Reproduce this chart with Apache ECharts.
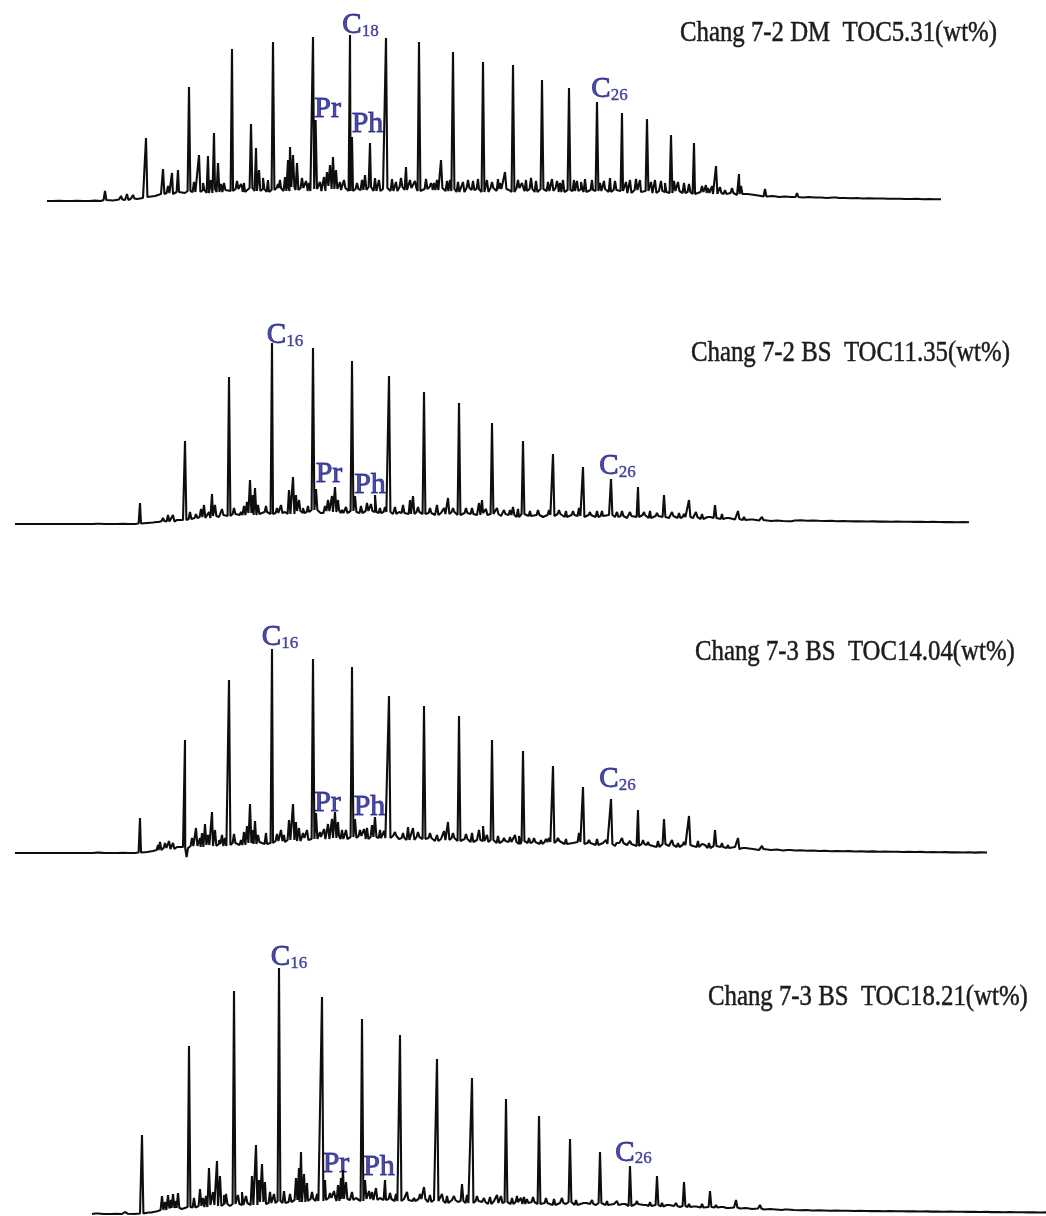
<!DOCTYPE html>
<html>
<head>
<meta charset="utf-8">
<title>Chang 7 saturated hydrocarbon chromatograms</title>
<script src="https://cdn.jsdelivr.net/npm/echarts@6/dist/echarts.min.js"></script>
<style>
  html, body { margin: 0; padding: 0; background: #ffffff; }
  #chart { width: 1046px; height: 1216px; }
</style>
</head>
<body>
<div id="chart"></div>
<script>
// Saturated-hydrocarbon gas chromatograms of four Chang 7 shale samples.
// Time axis: retention time (min); vertical axis: relative abundance.

const sampleTitles = [
  'Chang 7-2 DM  TOC5.31(wt%)',
  'Chang 7-2 BS  TOC11.35(wt%)',
  'Chang 7-3 BS  TOC14.04(wt%)',
  'Chang 7-3 BS  TOC18.21(wt%)'
];

// ---------- Chang 7-2 DM, TOC 5.31 ----------
// detector baseline, sampled every 0.3 min from 2.35 min
const dmBaseStart = 2.35, dmBaseStep = 0.3;
const dmBase = [
  9, 9, 9.2, 9, 9, 9.3, 9, 9, 9.4, 9,
  10, 9.5, 10.5, 10, 11.5, 11, 12,
  13, 14, 16, 17, 16, 18, 17, 19, 18,
  20, 17, 21, 18, 20, 19, 21, 18, 22, 19, 21, 18, 20, 22, 19, 23, 20,
  22, 19, 21, 19, 24, 21, 20, 22, 19, 21, 20, 23, 19, 21, 22, 19, 23,
  20, 22, 19, 21, 23, 20, 22, 19, 21, 18, 22, 20, 21, 18, 22, 19, 21,
  20, 18, 22, 19, 21, 18, 21, 19, 22, 18, 20, 19, 21, 18, 20, 19, 21,
  18, 20, 19, 17, 20, 18, 19, 17, 19, 18, 17, 19, 17, 18, 16, 18, 17,
  16, 17, 16, 17, 15, 16, 14, 15, 14, 13.5, 14, 13, 13.5, 13, 13, 12.5, 13,
  12.5, 12.5, 12, 12.5, 12, 12, 11.8, 12, 11.5, 11.8, 11.5, 11.5, 11.3, 11.2, 11.3, 11, 11, 11.2, 10.8, 11, 10.8, 10.8
];
// n-alkane peaks [retention time, apex abundance]
const dmAlkanes = [
  [5.25, 19], [7.3, 72], [9.45, 123], [11.6, 161], [13.65, 168], [15.65, 173], [17.5, 175],
  [19.3, 172], [20.95, 168], [22.65, 158], [24.15, 148], [25.65, 145], [27.1, 130], [28.45, 122],
  [29.85, 108], [31.1, 97], [32.35, 91], [33.55, 75], [34.7, 67], [35.8, 44], [36.95, 36],
  [38.25, 21], [39.85, 17], [41.75, 14], [44.1, 13]
];
// isoprenoids, unresolved minor compounds and baseline spikes
const dmMinor = [
  [6.05, 14], [6.35, 16], [6.65, 15], [8.15, 41], [8.4, 24], [8.6, 37], [8.9, 40], [9.95, 55],
  [10.15, 27], [10.4, 54], [10.7, 77], [10.9, 47], [11.2, 27], [12.05, 26], [12.55, 86], [12.8, 62],
  [12.95, 40], [13.15, 32], [14.0, 30], [14.4, 50], [14.5, 63], [14.65, 55], [14.85, 47], [15.1, 32],
  [15.78, 90], [16.0, 28], [16.35, 38], [16.5, 45], [16.65, 53], [16.8, 40], [17.0, 28], [17.6, 73],
  [18.1, 30], [18.25, 35], [18.5, 67], [18.75, 32], [19.8, 28], [20.05, 32], [20.3, 43], [20.5, 30],
  [21.55, 27], [21.85, 30], [22.05, 50], [22.35, 29], [23.15, 28], [23.4, 30], [23.65, 29], [24.6, 28],
  [24.9, 31], [25.25, 38], [26.3, 30], [26.55, 32], [27.4, 28], [27.85, 29], [28.15, 30], [28.85, 29],
  [29.25, 31], [30.2, 29], [30.5, 32], [31.5, 30], [31.8, 31], [32.75, 30], [33.05, 29], [33.9, 28],
  [34.2, 27], [35.1, 24], [35.4, 22], [36.25, 20], [37.3, 18],
  [9.7, 28], [10.55, 30], [11.05, 26], [11.85, 29], [12.2, 27], [13.4, 30], [13.9, 26], [14.25, 33],
  [15.3, 29], [15.45, 27], [16.2, 33], [17.2, 30], [17.85, 27], [18.95, 30], [19.6, 31], [20.75, 29],
  [21.3, 31], [21.7, 27], [22.5, 30], [22.9, 28], [23.9, 31], [24.35, 30], [25.0, 27], [25.9, 30],
  [26.1, 27], [26.8, 29], [27.6, 31], [28.0, 27], [28.7, 30], [29.05, 28], [29.6, 30], [30.0, 27],
  [30.75, 29], [31.3, 28], [32.0, 30], [32.55, 28], [33.25, 27], [33.7, 29], [34.45, 26], [35.3, 25],
  [35.6, 24], [36.0, 23], [36.6, 22], [37.05, 24]
];
const dmTags = [[17.5, 175, 'C18'], [15.78, 90, 'Pr'], [17.6, 73, 'Ph'], [29.85, 108, 'C26']];

// ---------- Chang 7-2 BS, TOC 11.35 ----------
const bs1BaseStart = 0.75, bs1BaseStep = 0.3;
const bs1Base = [
  6, 6, 6, 6, 6, 6, 6, 6, 6, 6, 6, 6, 6, 6, 6.3, 6, 6, 6, 6.2, 6, 6,
  6.5, 7, 7.5, 8, 9, 8.5, 10,
  10, 11, 12, 13, 12, 14, 13, 15, 14, 16, 15, 17, 15, 16, 18, 16, 17,
  18, 16, 19, 17, 18, 20, 17, 19, 18, 20, 17, 19, 18, 17, 19, 18, 17,
  18, 16, 18, 17, 16, 18, 16, 17, 15, 17, 16, 18, 15, 17, 16, 15, 17,
  15, 16, 14, 16, 15, 13, 16, 14, 15, 13, 15, 14, 16, 13, 15, 14, 13,
  15, 13, 14, 15, 13, 14, 12, 14, 13, 15, 12, 14, 13, 12, 14, 12, 13,
  12, 13, 11, 13, 12, 11, 12, 10.5, 11, 10, 10.5, 9.5, 10, 9, 9.5, 9, 8.8,
  9.5, 9.7, 9.3, 9.5, 9.2, 9, 9.2, 8.8, 9, 8.8, 8.6, 8.8, 8.5, 8.6, 8.4, 8.5, 8.3, 8.4, 8.2, 8.3,
  8.1, 8.2, 8, 8.1, 8, 7.9, 8, 7.8, 7.9, 7.8
];
const bs1Alkanes = [
  [7.0, 27], [9.25, 89], [11.45, 153], [13.6, 187], [15.65, 182], [17.6, 169], [19.45, 154],
  [21.2, 138], [22.95, 127], [24.6, 107], [26.15, 89], [27.65, 76], [29.15, 63], [30.55, 51],
  [31.9, 43], [33.2, 35], [34.45, 30], [35.75, 25], [36.9, 19], [38.1, 13], [39.5, 10]
];
const bs1Minor = [
  [4.9, 8], [7.9, 8], [8.15, 12], [8.4, 15], [8.65, 15], [9.8, 16], [10.2, 25], [10.45, 18],
  [10.6, 36], [10.75, 25], [10.95, 15], [12.05, 18], [12.35, 28], [12.5, 50], [12.65, 35], [12.75, 42],
  [12.9, 25], [14.2, 18], [14.45, 40], [14.65, 53], [14.8, 35], [14.95, 30], [15.15, 22], [15.8, 41],
  [16.1, 18], [16.4, 30], [16.6, 34], [16.75, 43], [16.9, 30], [17.1, 20], [17.75, 34], [18.35, 27],
  [18.75, 35], [19.0, 22], [20.15, 25], [20.5, 30], [20.65, 34], [21.85, 25], [22.2, 22], [22.4, 32],
  [23.6, 22], [23.95, 27], [24.1, 30], [25.2, 20], [25.65, 23], [27.45, 20], [28.65, 19], [28.95, 22],
  [29.85, 19], [31.1, 19], [32.5, 19], [33.6, 18], [34.8, 18], [36.1, 16], [37.6, 12],
  [9.5, 18], [10.05, 21], [11.1, 21], [11.7, 22], [12.2, 24], [13.3, 24], [13.85, 22], [14.05, 25],
  [15.4, 24], [16.25, 24], [17.3, 23], [18.05, 24], [18.55, 26], [19.25, 23], [19.75, 23], [20.9, 23],
  [21.5, 22], [22.65, 22], [23.3, 22], [24.3, 21], [24.85, 22], [25.5, 20], [25.9, 21], [26.5, 19],
  [26.9, 20], [27.95, 20], [28.3, 19], [29.5, 18], [30.1, 19], [30.85, 18], [31.5, 18], [32.2, 18],
  [32.85, 17], [33.95, 17], [34.2, 16], [35.1, 16], [35.45, 15], [36.4, 14], [37.2, 13]
];
const bs1Tags = [[13.6, 187, 'C16'], [15.8, 41, 'Pr'], [17.75, 34, 'Ph'], [30.55, 51, 'C26']];

// ---------- Chang 7-3 BS, TOC 14.04 ----------
const bs2BaseStart = 0.75, bs2BaseStep = 0.3;
const bs2Base = [
  7, 7, 7, 7, 7, 7, 7, 7, 7, 7, 7, 7, 7, 7, 7.4, 7, 7, 7, 7.3, 7, 7,
  7.5, 8, 9, 10, 12, 11, 13,
  13, 12, 14, 13, 15, 14, 16, 14, 15, 17, 15, 17, 16, 18, 16, 17, 19,
  18, 20, 19, 22, 20, 21, 23, 21, 22, 24, 21, 23, 22, 24, 21, 23, 22,
  22, 24, 21, 22, 20, 23, 21, 22, 19, 21, 20, 22, 19, 21, 18, 20, 19,
  18, 20, 17, 19, 18, 16, 19, 17, 18, 16, 18, 17, 19, 16, 17, 18, 16,
  17, 15, 17, 16, 14, 17, 15, 16, 14, 16, 15, 13, 16, 14, 15, 13, 15,
  14, 13, 15, 12, 14, 13, 12, 13, 11, 12, 11, 10, 11, 10, 10.5, 9.5, 10,
  9.5, 9.8, 9.2, 9.5, 9, 9.3, 8.8, 9, 8.7, 8.9, 8.5, 8.7, 8.4, 8.6, 8.3, 8.5, 8.2, 8.3, 8, 8.2,
  8, 8.1, 7.8, 8, 7.7, 7.9, 7.6, 7.8, 7.5, 7.7, 7.4, 7.6, 7.5
];
const bs2Alkanes = [
  [7.0, 42], [9.25, 120], [11.45, 180], [13.6, 211], [15.65, 201], [17.6, 193], [19.45, 164],
  [21.2, 154], [22.95, 144], [24.6, 120], [26.15, 109], [27.65, 94], [29.15, 73], [30.55, 61],
  [31.9, 50], [33.2, 41], [34.45, 44], [35.75, 30], [36.9, 22], [38.1, 14], [39.45, 10]
];
const bs2Minor = [
  [4.9, 9], [7.9, 15], [8.0, 18], [8.25, 17], [8.45, 19], [8.65, 17], [9.33, 3], [9.8, 32],
  [10.0, 22], [10.25, 36], [10.4, 25], [10.6, 48], [10.75, 30], [10.95, 20], [11.25, 22], [12.05, 20],
  [12.35, 34], [12.5, 56], [12.65, 30], [12.75, 39], [12.9, 25], [14.2, 25], [14.45, 40], [14.65, 56],
  [14.8, 38], [14.95, 32], [15.15, 27], [15.8, 47], [16.0, 28], [16.4, 36], [16.6, 41], [16.75, 48],
  [16.9, 38], [17.1, 30], [17.75, 41], [18.0, 30], [18.35, 32], [18.6, 35], [18.75, 43], [19.0, 30],
  [20.15, 27], [20.4, 33], [20.65, 32], [21.85, 25], [22.2, 29], [22.4, 38], [23.6, 27], [23.95, 30],
  [24.15, 34], [25.2, 22], [25.75, 25], [26.7, 22], [27.05, 20], [27.45, 22], [28.95, 27], [31.1, 22],
  [32.15, 20], [33.6, 20], [34.9, 19], [36.1, 17],
  [9.6, 22], [10.1, 27], [11.1, 25], [11.7, 26], [12.2, 28], [13.3, 27], [13.85, 26], [14.05, 30],
  [15.35, 30], [16.2, 31], [17.3, 30], [18.2, 31], [19.2, 29], [19.75, 28], [20.9, 28], [21.5, 27],
  [22.65, 27], [23.3, 26], [24.35, 25], [24.9, 24], [25.5, 23], [25.95, 24], [26.45, 22], [27.3, 21],
  [27.9, 22], [28.3, 21], [29.45, 20], [29.85, 21], [30.3, 20], [30.9, 19], [31.5, 19], [32.4, 18],
  [32.9, 19], [33.9, 17], [34.2, 18], [35.1, 16], [35.45, 17], [36.4, 15], [37.2, 13]
];
const bs2Tags = [[13.6, 211, 'C16'], [15.8, 47, 'Pr'], [17.75, 41, 'Ph'], [30.55, 61, 'C26']];

// ---------- Chang 7-3 BS, TOC 18.21 ----------
const bs3BaseStart = 4.6, bs3BaseStep = 0.3;
const bs3Base = [
  2, 2.5, 2, 2, 2.3, 2, 2.2, 2, 2.5, 3, 3.5,
  5, 6, 7.5, 8, 7, 9, 8.5, 10, 9,
  11, 10, 12, 10, 12, 11, 13, 11, 14, 12, 13, 15, 13, 14, 16, 14, 15,
  17, 15, 16, 18, 15, 17, 16, 18, 15, 17, 16, 18, 16, 17, 15, 17, 16,
  15, 17, 14, 16, 15, 13, 16, 14, 15, 13, 15, 14, 12, 15, 13, 14, 12,
  14, 12, 13, 14, 12, 13, 11, 13, 12, 14, 11, 13, 12, 11, 13, 11, 12,
  11, 12, 10, 12, 11, 10, 11, 9.5, 11, 10, 9, 10, 9, 9.5, 8.5, 9, 8.5,
  9, 8, 8.5, 7.5, 8, 7, 7.5, 6.5, 7, 6.5, 6, 6.5, 6, 5.8, 6, 5.5, 5.7,
  5.5, 5.3, 5.5, 5.2, 5.3, 5, 5.2, 5, 4.9, 5, 4.8, 4.9, 4.7, 4.8, 4.6, 4.7, 4.5, 4.6, 4.4, 4.5,
  4.3, 4.4, 4.2, 4.3, 4.1, 4.2, 4, 4.1, 3.9, 4, 3.8, 3.9, 3.7, 3.8, 3.6, 3.7, 3.5, 3.6
];
const bs3Alkanes = [
  [7.1, 81], [9.45, 170], [11.7, 225], [13.95, 248], [16.1, 219], [18.1, 197], [20.0, 181],
  [21.85, 157], [23.6, 138], [25.3, 117], [26.95, 100], [28.5, 77], [30.0, 64], [31.5, 50],
  [32.85, 40], [34.2, 34], [35.5, 25], [36.8, 16], [38.0, 11], [39.3, 7], [40.7, 5]
];
const bs3Minor = [
  [4.85, 3], [6.25, 4], [7.5, 3], [8.1, 20], [8.25, 14], [8.4, 21], [8.55, 16], [8.65, 22],
  [8.8, 15], [8.9, 23], [10.0, 27], [10.15, 18], [10.45, 48], [10.65, 24], [10.85, 55], [11.0, 40],
  [11.2, 21], [12.3, 20], [12.6, 40], [12.8, 71], [12.95, 36], [13.1, 52], [13.25, 34], [14.8, 38],
  [14.95, 48], [15.05, 64], [15.2, 42], [15.35, 33], [16.25, 36], [16.5, 23], [16.9, 31], [17.05, 38],
  [17.15, 46], [17.3, 34], [18.25, 36], [18.6, 24], [18.8, 28], [19.25, 36], [20.7, 18], [21.2, 29],
  [22.35, 20], [23.1, 32], [24.2, 18], [24.85, 21], [25.85, 20], [26.05, 18], [26.35, 17], [26.65, 19],
  [29.25, 15], [30.85, 15], [32.25, 13], [33.4, 13], [34.75, 11], [36.1, 10],
  [9.7, 18], [10.3, 20], [11.3, 22], [11.9, 21], [12.1, 24], [13.5, 24], [13.7, 22], [14.2, 25],
  [14.5, 22], [15.6, 24], [15.85, 22], [16.7, 25], [17.6, 24], [18.45, 25], [19.5, 23], [19.8, 22],
  [20.35, 24], [21.0, 22], [21.5, 21], [22.1, 22], [22.7, 20], [23.35, 21], [23.85, 20], [24.5, 19],
  [25.05, 20], [25.6, 18], [26.2, 19], [27.3, 18], [27.7, 17], [28.1, 18], [28.8, 16], [29.6, 16],
  [30.35, 15], [31.2, 14], [31.85, 15], [32.5, 14], [33.1, 13], [33.8, 13], [34.45, 12], [35.1, 12],
  [35.8, 11], [36.4, 10]
];
const bs3Tags = [[13.95, 248, 'C16'], [16.25, 36, 'Pr'], [18.25, 36, 'Ph'], [31.5, 50, 'C26']];

// ---------- layout & styling ----------
const panels = [
  { base: dmBase, start: dmBaseStart, step: dmBaseStep, alkanes: dmAlkanes, minor: dmMinor, tags: dmTags },
  { base: bs1Base, start: bs1BaseStart, step: bs1BaseStep, alkanes: bs1Alkanes, minor: bs1Minor, tags: bs1Tags },
  { base: bs2Base, start: bs2BaseStart, step: bs2BaseStep, alkanes: bs2Alkanes, minor: bs2Minor, tags: bs2Tags },
  { base: bs3Base, start: bs3BaseStart, step: bs3BaseStep, alkanes: bs3Alkanes, minor: bs3Minor, tags: bs3Tags }
];
const panelBoxes = [
  { top: 0, height: 210 },
  { top: 300, height: 230 },
  { top: 600, height: 260 },
  { top: 936, height: 280 }
];
const titlePos = [[680, 33], [691, 353], [695, 652], [708, 997]];
const tagOffsets = [
  { C18: [10.5, 5], Pr: [12, 4.5], Ph: [15.5, 2.5], C26: [12.5, 1.6] },
  { C16: [13, 6.6], Pr: [13, 0.5], Ph: [15, 4.5], C26: [6.5, 2.1] },
  { C16: [8, 2.6], Pr: [11.5, 5.5], Ph: [14.5, 3.5], C26: [6.5, -4.9] },
  { C16: [10, 3.6], Pr: [11, -0.5], Ph: [14, 2.5], C26: [3.5, 1.5] }
];
const TIME_MAX = 52.3;
const PEAK_HALF_WIDTH = 0.07;
const TAG_COLOR = '#1f2088';
const SERIF = '"Liberation Serif", "Times New Roman", serif';

// Assemble the trace: baseline samples plus narrow peaks rising from the local baseline
function buildTrace(p) {
  const pts = p.base.map((v, i) => [+(p.start + i * p.step).toFixed(3), v]);
  const footAt = t => {
    let i = Math.round((t - p.start) / p.step);
    i = Math.max(0, Math.min(p.base.length - 1, i));
    return p.base[i];
  };
  p.alkanes.concat(p.minor).forEach(([t, v]) => {
    const f = footAt(t);
    pts.push([t - PEAK_HALF_WIDTH, f], [t, v], [t + PEAK_HALF_WIDTH, f]);
  });
  pts.sort((a, b) => a[0] - b[0]);
  return pts;
}

function tagText(name) {
  const m = /^C(\d+)$/.exec(name);
  return m ? '{c|C}{s|' + m[1] + '}' : '{p|' + name + '}';
}

const tagFont = { fontFamily: SERIF, color: TAG_COLOR, textBorderColor: TAG_COLOR };

const grid = [], xAxis = [], yAxis = [], series = [];
panels.forEach((p, i) => {
  grid.push({ left: 0, right: 0, top: panelBoxes[i].top, height: panelBoxes[i].height, containLabel: false });
  xAxis.push({ gridIndex: i, type: 'value', min: 0, max: TIME_MAX, show: false });
  yAxis.push({ gridIndex: i, type: 'value', min: 0, max: panelBoxes[i].height, show: false });
  series.push({
    type: 'line', xAxisIndex: i, yAxisIndex: i,
    data: buildTrace(p), symbol: 'none', smooth: false, clip: false,
    lineStyle: { color: '#0e0e0e', width: 2.1 },
    emphasis: { disabled: true }, silent: true
  });
  series.push({
    type: 'scatter', xAxisIndex: i, yAxisIndex: i, silent: true,
    symbolSize: 0, itemStyle: { color: 'rgba(0,0,0,0)' },
    data: p.tags.map(([t, v, name]) => ({
      value: [t, v], name: name,
      label: { offset: tagOffsets[i][name] }
    })),
    label: {
      show: true, position: 'top', distance: 0,
      formatter: d => tagText(d.name),
      rich: {
        c: Object.assign({}, tagFont, { fontSize: 29, lineHeight: 29, verticalAlign: 'bottom', textBorderWidth: 0.9 }),
        s: Object.assign({}, tagFont, { fontSize: 17, lineHeight: 3, verticalAlign: 'bottom', textBorderWidth: 0.4 }),
        p: Object.assign({}, tagFont, { fontSize: 30, lineHeight: 30, textBorderWidth: 0.9 })
      }
    }
  });
});

const graphic = sampleTitles.map((text, i) => ({
  type: 'text', x: titlePos[i][0], y: titlePos[i][1], scaleX: 0.855, silent: true,
  style: {
    text: text, font: '29px ' + SERIF, fill: '#1e1b1c',
    stroke: '#1e1b1c', lineWidth: 0.5,
    textAlign: 'left', textVerticalAlign: 'middle'
  }
}));

const chart = echarts.init(document.getElementById('chart'), null, { renderer: 'canvas' });
chart.setOption({
  animation: false,
  backgroundColor: '#ffffff',
  grid, xAxis, yAxis, series, graphic
});
</script>
</body>
</html>
